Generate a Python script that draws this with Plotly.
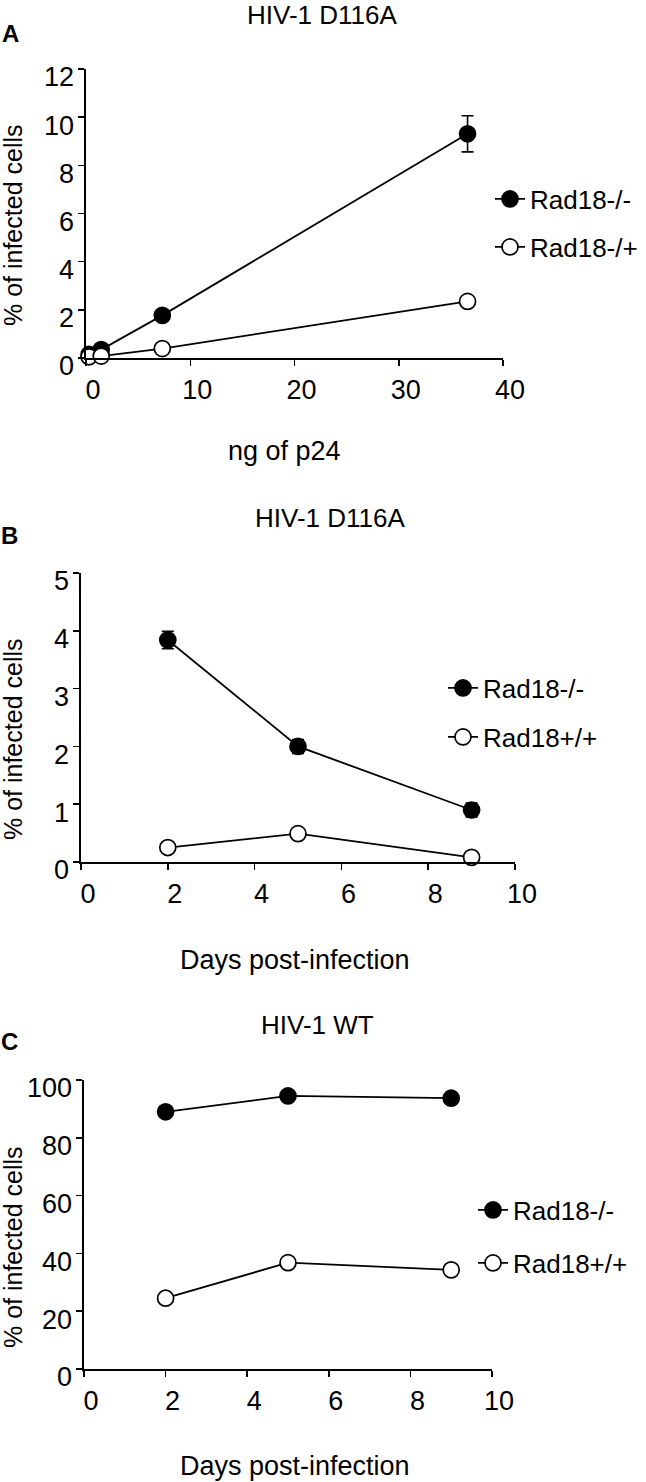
import plotly.graph_objects as go

# ---------------- data ----------------
dose_A = [0.29, 1.46, 7.32, 36.6]
a_ko = [0.15, 0.35, 1.77, 9.31]
a_ko_err = [0.05, 0.08, 0.15, 0.75]
a_het = [0.05, 0.08, 0.39, 2.35]

days = [2, 5, 9]
b_ko = [3.84, 2.0, 0.9]
b_ko_err = [0.15, 0.12, 0.12]
b_wt = [0.25, 0.49, 0.08]

c_ko = [89.0, 94.5, 93.7]
c_wt = [24.5, 36.8, 34.3]

titles = ["HIV-1 D116A", "HIV-1 D116A", "HIV-1 WT"]
letters = ["A", "B", "C"]
xtitles = ["ng of p24", "Days post-infection", "Days post-infection"]
ytitle = "% of infected cells"
names_A = ["Rad18-/-", "Rad18-/+"]
names_BC = ["Rad18-/-", "Rad18+/+"]

W, H = 646, 1482
FONT = "Liberation Sans, Arial, Helvetica, sans-serif"
FS = 27


def px(x):
    return x / W


def py(y):
    return 1 - y / H


fig = go.Figure()

# panel geometry (pixels)
panels = [
    dict(x0=86, x1=503, y0=358, y1=69, xr=[0, 40], xd=10, yr=[0, 12], yd=2),
    dict(x0=81, x1=515, y0=862, y1=573, xr=[0, 10], xd=2, yr=[0, 5], yd=1),
    dict(x0=84, x1=492, y0=1369, y1=1080, xr=[0, 10], xd=2, yr=[0, 100], yd=20),
]


def add_series(idx, x, y, err, filled, name, legend_name):
    ax = "" if idx == 0 else str(idx + 1)
    fig.add_trace(go.Scatter(
        x=x, y=y,
        mode="lines+markers",
        name=name,
        xaxis="x" + ax, yaxis="y" + ax,
        line=dict(color="black", width=1.8),
        marker=dict(symbol="circle", size=16,
                    color="black" if filled else "white",
                    line=dict(color="black", width=1.7)),
        error_y=(dict(type="data", array=err, visible=True, color="black",
                      thickness=1.6, width=6) if err is not None else None),
        cliponaxis=False,
        legend=legend_name,
        showlegend=True,
    ))


add_series(0, dose_A, a_ko, a_ko_err, True, names_A[0], "legend")
add_series(0, dose_A, a_het, None, False, names_A[1], "legend2")
add_series(1, days, b_ko, b_ko_err, True, names_BC[0], "legend3")
add_series(1, days, b_wt, None, False, names_BC[1], "legend4")
add_series(2, days, c_ko, None, True, names_BC[0], "legend5")
add_series(2, days, c_wt, None, False, names_BC[1], "legend6")

layout = dict(
    width=W, height=H, autosize=False,
    margin=dict(l=0, r=0, t=0, b=0, pad=0, autoexpand=False),
    paper_bgcolor="white", plot_bgcolor="white",
    font=dict(family=FONT, size=FS, color="black"),
    hovermode=False,
)

for i, p in enumerate(panels):
    ax = "" if i == 0 else str(i + 1)
    layout["xaxis" + ax] = dict(
        domain=[px(p["x0"]), px(p["x1"])],
        anchor="y" + ax,
        range=p["xr"], dtick=p["xd"], tick0=0,
        showline=True, linecolor="black", linewidth=1.6,
        ticks="outside", ticklen=6, tickwidth=1.5, tickcolor="black",
        showgrid=False, zeroline=False, automargin=False,
        tickfont=dict(family=FONT, size=FS, color="black"),
        ticklabelshift=7, ticklabelstandoff=1,
        fixedrange=True,
    )
    layout["yaxis" + ax] = dict(
        domain=[py(p["y0"]), py(p["y1"])],
        anchor="x" + ax,
        range=p["yr"], dtick=p["yd"], tick0=0,
        showline=True, linecolor="black", linewidth=1.6,
        ticks="outside", ticklen=6, tickwidth=1.5, tickcolor="black",
        showgrid=False, zeroline=False, automargin=False,
        tickfont=dict(family=FONT, size=FS, color="black"),
        ticklabelshift=8, ticklabelstandoff=-1,
        fixedrange=True,
    )

# legends, one per entry
LFS = 26
leg_pos = [(490, 199), (490, 247), (443, 688), (443, 737), (473, 1210), (473, 1263)]
for k, (lx, ly) in enumerate(leg_pos):
    key = "legend" if k == 0 else "legend" + str(k + 1)
    layout[key] = dict(
        x=px(lx), y=py(ly), xanchor="left", yanchor="middle",
        bgcolor="rgba(0,0,0,0)", borderwidth=0,
        font=dict(family=FONT, size=LFS, color="black"),
        itemclick=False, itemdoubleclick=False,
    )

annotations = []
title_pos = [(322, -2), (330, 501), (317, 1008)]
letter_pos = [(10, 34), (9, 535), (9, 1041)]
xt_pos = [(284, 451), (295, 960), (295, 1466)]
yt_pos = [(13, 225), (13, 739), (13, 1247)]
for i in range(3):
    annotations.append(dict(text=titles[i], x=px(title_pos[i][0]), y=py(title_pos[i][1]),
                            xref="paper", yref="paper", xanchor="center", yanchor="top",
                            showarrow=False, font=dict(family=FONT, size=FS - 1, color="black")))
    annotations.append(dict(text="<b>" + letters[i] + "</b>", x=px(letter_pos[i][0]), y=py(letter_pos[i][1]),
                            xref="paper", yref="paper", xanchor="center", yanchor="middle",
                            showarrow=False, font=dict(family=FONT, size=FS - 3, color="black")))
    annotations.append(dict(text=xtitles[i], x=px(xt_pos[i][0]), y=py(xt_pos[i][1]),
                            xref="paper", yref="paper", xanchor="center", yanchor="middle",
                            showarrow=False, font=dict(family=FONT, size=FS, color="black")))
    annotations.append(dict(text=ytitle, x=px(yt_pos[i][0]), y=py(yt_pos[i][1]),
                            xref="paper", yref="paper", xanchor="center", yanchor="middle",
                            textangle=-90,
                            showarrow=False, font=dict(family=FONT, size=FS - 2, color="black")))
layout["annotations"] = annotations

fig.update_layout(**layout)
fig.write_html("out.html",
               config={"displayModeBar": False, "staticPlot": True},
               post_script="document.body.style.margin='0px';document.body.style.padding='0px';")
